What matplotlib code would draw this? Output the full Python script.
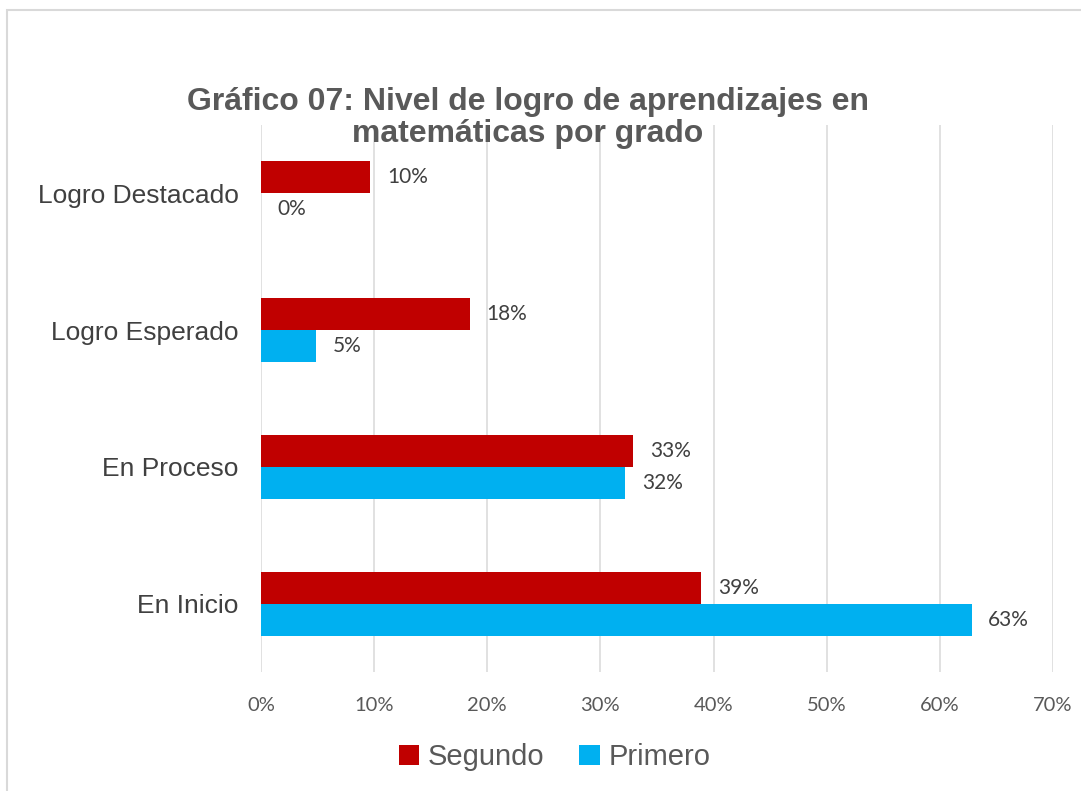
import matplotlib.pyplot as plt
import numpy as np
from matplotlib.patches import Rectangle
from matplotlib.ticker import PercentFormatter

# Datos (de abajo hacia arriba)
categorias = ['En Inicio', 'En Proceso', 'Logro Esperado', 'Logro Destacado']
segundo = [0.389, 0.329, 0.1845, 0.0968]
primero = [0.628, 0.322, 0.0488, 0.0]
ticks_x = [0, 0.1, 0.2, 0.3, 0.4, 0.5, 0.6, 0.7]

rojo = '#C00000'
celeste = '#00B0F0'
gris_texto = '#595959'

fig = plt.figure(figsize=(10.81, 7.91), dpi=100)
ax = fig.add_axes([0.2414, 0.1504, 0.7327, 0.6916])

# Borde del área del gráfico
fig.patches.append(Rectangle((7 / 1081, -0.05), 1.1, 1 - 10 / 791 + 0.05,
                             transform=fig.transFigure, fill=False,
                             edgecolor='#D9D9D9', linewidth=1.5))

y = np.arange(len(categorias))
h = 0.234
b_seg = ax.barh(y + h / 2, segundo, height=h, color=rojo, label='Segundo')
b_pri = ax.barh(y - h / 2, primero, height=h, color=celeste, label='Primero')

for barras in (b_seg, b_pri):
    for rect in barras:
        v = rect.get_width()
        ax.annotate(f'{round(v * 100):.0f}%', (v, rect.get_y() + rect.get_height() / 2),
                    xytext=(12, 0), textcoords='offset points', va='center', ha='left',
                    fontsize=15, color='#404040', family='Lato')

ax.set_xlim(0, 0.7)
ax.set_ylim(-0.5, 3.5)
ax.set_xticks(ticks_x)
ax.xaxis.set_major_formatter(PercentFormatter(1.0, decimals=0))
ax.set_yticks(y)
ax.set_yticklabels(categorias, fontsize=19, color='#404040', family='Liberation Sans')
for t in ax.get_xticklabels():
    t.set_fontsize(14.5)
    t.set_color(gris_texto)
    t.set_family('Lato')
ax.tick_params(axis='both', length=0)
ax.tick_params(axis='x', pad=18)
ax.tick_params(axis='y', pad=16)

ax.grid(axis='x', color='#D9D9D9', linewidth=1.1)
ax.set_axisbelow(True)
for s in ax.spines.values():
    s.set_visible(False)

fig.text(0.488, 0.851, 'Gráfico 07: Nivel de logro de aprendizajes en\nmatemáticas por grado',
         ha='center', va='center', fontsize=23, fontweight='bold', color=gris_texto,
         family='Liberation Sans', linespacing=1.1)

fig.legend(handles=[b_seg, b_pri], loc='center', bbox_to_anchor=(0.513, 0.043), ncol=2,
           frameon=False, prop={'family': 'Liberation Sans', 'size': 21},
           handlelength=0.7, handleheight=0.7, handletextpad=0.3, columnspacing=1.2,
           labelcolor=gris_texto)

fig.savefig('out.png', dpi=100)
